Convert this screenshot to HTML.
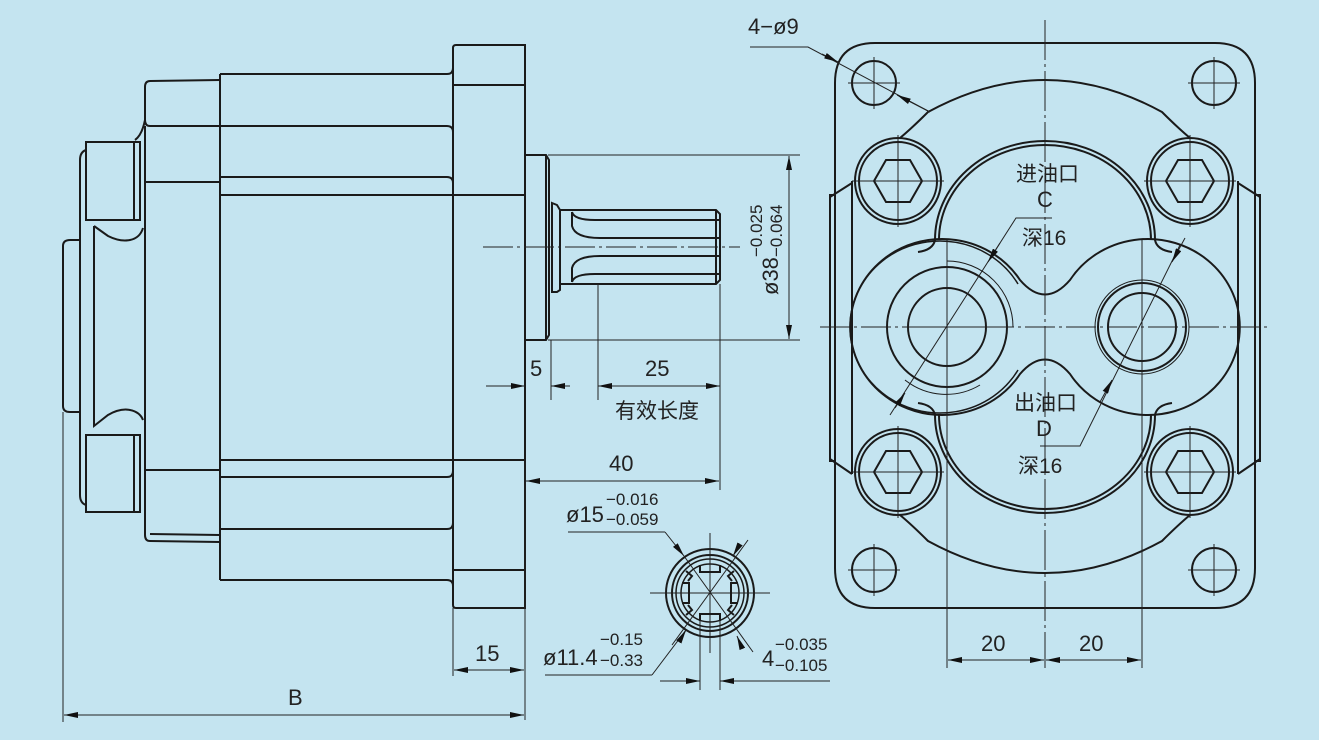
<!DOCTYPE html>
<html><head><meta charset="utf-8"><style>
html,body{margin:0;padding:0;background:#c4e4f0;}
svg{display:block}
text{font-family:"Liberation Sans","Noto Sans CJK SC",sans-serif;fill:#222;}
</style></head><body>
<svg width="1319" height="740" viewBox="0 0 1319 740" xmlns="http://www.w3.org/2000/svg">
<defs>
<marker id="a" markerWidth="14" markerHeight="6" refX="14" refY="3" orient="auto-start-reverse" markerUnits="userSpaceOnUse"><path d="M0,0 L14,3 L0,6z" fill="#111"/></marker>
</defs>
<rect width="1319" height="740" fill="#c4e4f0"/>
<g fill="none" stroke="#1a1a1a" stroke-width="2">
<path d="M453,48 Q453,45 456,45 L525,45 L525,608 L456,608 Q453,608 453,605 Z"/>
<line x1="453" y1="85" x2="525" y2="85"/><line x1="453" y1="570" x2="525" y2="570"/>
<rect x="220" y="195" width="305" height="265"/>
<line x1="220" y1="74" x2="220" y2="580"/>
<path d="M220,74 L447,74 Q453,74 453,68"/>
<path d="M220,126 L447,126 Q453,126 453,132"/>
<path d="M220,177 L447,177 Q453,177 453,183 L453,195"/>
<path d="M220,580 L447,580 Q453,580 453,586"/>
<path d="M220,529 L447,529 Q453,529 453,523"/>
<path d="M220,477 L447,477 Q453,477 453,471 L453,460"/>
<path d="M220,80 L150,81 Q145,81 145,87 L145,120 Q145,126 150,126 L220,126"/>
<path d="M145,126 L145,182 L220,182"/>
<path d="M145,120 Q142,135 135,140"/>
<path d="M145,182 L145,470 L220,470"/>
<path d="M145,470 L145,535 Q145,541 150,541 L220,542"/>
<path d="M220,535 L150,534"/>
<path d="M86,142 L140,142 L140,220 L86,220 Z"/>
<line x1="134" y1="142" x2="134" y2="220"/>
<path d="M86,435 L140,435 L140,512 L86,512 Z"/>
<line x1="134" y1="435" x2="134" y2="512"/>
<path d="M86,150 Q80,152 80,160 L80,495 Q80,503 86,505"/>
<path d="M94,226 L94,426 L108,415 Q120,408 130,410 Q140,412 143,420"/>
<path d="M94,226 L108,236 Q120,242 130,240 Q140,238 143,228"/>
<path d="M80,240 L70,240 Q63,240 63,246 L63,406 Q63,412 70,412 L80,412"/>
<path d="M525,155 L546,155 L549,160 L549,335 L546,340 L525,340"/>
<line x1="546" y1="155" x2="546" y2="340"/>
<path d="M552,203 L557,205 L560,210 L560,290 L557,292 L552,292 Z"/>
<path d="M560,210 L716,210 L720,214 L720,280 L716,284 L560,284"/>
<path d="M572,212 Q574,220 595,220 L720,220"/>
<path d="M572,212 L572,226 Q575,238 600,238 L720,238"/>
<path d="M572,282 L572,268 Q575,256 600,256 L720,256"/>
<path d="M572,282 Q574,274 595,274 L720,274"/>
<line x1="716" y1="210" x2="716" y2="284"/>
<path d="M875,43 L1215,43 Q1255,43 1255,83 L1255,568 Q1255,608 1215,608 L875,608 Q835,608 835,568 L835,83 Q835,43 875,43 Z"/>
<path d="M835,195 L830,195 L830,461 L835,461"/>
<path d="M830,197 L852,183 M830,459 L852,474"/>
<line x1="852" y1="181" x2="852" y2="474"/>
<path d="M1255,195 L1260,195 L1260,461 L1255,461"/>
<path d="M1260,197 L1238,183 M1260,459 L1238,474"/>
<line x1="1238" y1="181" x2="1238" y2="474"/>
<circle cx="874" cy="83" r="22"/><circle cx="1214" cy="83" r="22"/>
<circle cx="874" cy="570" r="22"/><circle cx="1214" cy="570" r="22"/>
<circle cx="898" cy="181" r="43"/><circle cx="898" cy="181" r="39"/>
<circle cx="1190" cy="181" r="43"/><circle cx="1190" cy="181" r="39"/>
<circle cx="898" cy="472" r="43"/><circle cx="898" cy="472" r="39"/>
<circle cx="1190" cy="472" r="43"/><circle cx="1190" cy="472" r="39"/>
<path d="M874,181 L886,160 L910,160 L922,181 L910,202 L886,202 Z"/>
<path d="M1166,181 L1178,160 L1202,160 L1214,181 L1202,202 L1178,202 Z"/>
<path d="M874,472 L886,451 L910,451 L922,472 L910,493 L886,493 Z"/>
<path d="M1166,472 L1178,451 L1202,451 L1214,472 L1202,493 L1178,493 Z"/>
<path d="M900,138 Q912,128 928,112 Q1045,48 1162,112 Q1178,128 1190,138"/>
<path d="M900,515 Q912,525 928,541 Q1045,605 1162,541 Q1178,525 1190,515"/>
<path d="M918,252 Q933,250 935,240 A110,99 0 0 1 1155,240 Q1157,250 1172,252"/>
<path d="M939,240 A106,95 0 0 1 1151,240"/>
<path d="M918,403 Q933,405 935,415 A110,98 0 0 0 1155,415 Q1157,405 1172,403"/>
<path d="M939,415 A106,94 0 0 0 1151,415"/>
<path d="M1020,280 A92,88 0 1 0 1020,374 Q1045,345 1070,374 A92,88 0 1 0 1070,280 Q1045,309 1020,280 Z"/>
<path d="M1018,284 A90,86 0 1 0 1018,370" stroke-width="1.5"/>
<circle cx="947" cy="327" r="39"/>
<circle cx="947" cy="327" r="60"/>
<path d="M947,261 A66,66 0 0 1 1013,327" stroke-width="1"/>
<path d="M905,380 A66,66 0 0 0 980,385" stroke-width="1"/>
<circle cx="1142" cy="327" r="34"/>
<circle cx="1142" cy="327" r="44"/>
<circle cx="1142" cy="327" r="47" stroke-width="1"/>
<circle cx="710" cy="593" r="44"/>
<circle cx="710" cy="593" r="38"/>
<circle cx="710" cy="593" r="34" stroke-width="1.5"/>
<circle cx="710" cy="593" r="29" stroke-width="1.5"/>
</g>
<g fill="none" stroke="#222" stroke-width="1">
<line x1="483" y1="247" x2="740" y2="247" stroke-dasharray="30,4,3,4"/>
<line x1="548" y1="155" x2="800" y2="155"/><line x1="548" y1="340" x2="800" y2="340"/>
<line x1="789" y1="156" x2="789" y2="339" marker-start="url(#a)" marker-end="url(#a)"/>
<line x1="551" y1="340" x2="551" y2="400"/><line x1="598" y1="284" x2="598" y2="400"/>
<line x1="720" y1="284" x2="720" y2="490"/><line x1="525" y1="460" x2="525" y2="720"/>
<line x1="486" y1="386" x2="525" y2="386" marker-end="url(#a)"/>
<line x1="570" y1="386" x2="551" y2="386" marker-end="url(#a)"/>
<line x1="598" y1="386" x2="720" y2="386" marker-start="url(#a)" marker-end="url(#a)"/>
<line x1="526" y1="481" x2="719" y2="481" marker-start="url(#a)" marker-end="url(#a)"/>
<line x1="453" y1="608" x2="453" y2="676"/>
<line x1="454" y1="670" x2="524" y2="670" marker-start="url(#a)" marker-end="url(#a)"/>
<line x1="63" y1="412" x2="63" y2="722"/>
<line x1="64" y1="715" x2="524" y2="715" marker-start="url(#a)" marker-end="url(#a)"/>
<line x1="820" y1="327" x2="1268" y2="327" stroke-dasharray="30,4,3,4"/>
<line x1="1045" y1="20" x2="1045" y2="668" stroke-dasharray="40,4,3,4"/>
<line x1="947" y1="240" x2="947" y2="668"/><line x1="1142" y1="240" x2="1142" y2="668"/>
<line x1="948" y1="660" x2="1044" y2="660" marker-start="url(#a)" marker-end="url(#a)"/>
<line x1="1046" y1="660" x2="1141" y2="660" marker-start="url(#a)" marker-end="url(#a)"/>
<line x1="905" y1="327" x2="990" y2="327"/>
<line x1="874" y1="57" x2="874" y2="109"/><line x1="848" y1="83" x2="900" y2="83"/>
<line x1="1214" y1="57" x2="1214" y2="109"/><line x1="1188" y1="83" x2="1240" y2="83"/>
<line x1="874" y1="544" x2="874" y2="596"/><line x1="848" y1="570" x2="900" y2="570"/>
<line x1="1214" y1="544" x2="1214" y2="596"/><line x1="1188" y1="570" x2="1240" y2="570"/>
<line x1="898" y1="135" x2="898" y2="227"/><line x1="852" y1="181" x2="944" y2="181"/>
<line x1="1190" y1="135" x2="1190" y2="227"/><line x1="1144" y1="181" x2="1236" y2="181"/>
<line x1="898" y1="426" x2="898" y2="518"/><line x1="852" y1="472" x2="944" y2="472"/>
<line x1="1190" y1="426" x2="1190" y2="518"/><line x1="1144" y1="472" x2="1236" y2="472"/>
<path d="M750,47 L808,47 L930,112"/>
<line x1="822" y1="54" x2="838" y2="62" marker-end="url(#a)"/>
<line x1="930" y1="112" x2="897" y2="95" marker-end="url(#a)"/>
<path d="M1052,218 L1016,218 L890,415"/>
<line x1="1000" y1="243" x2="988" y2="262" marker-end="url(#a)"/>
<line x1="895" y1="408" x2="905" y2="393" marker-end="url(#a)"/>
<path d="M1040,446 L1080,446 L1180,245"/>
<line x1="1100" y1="402" x2="1112" y2="380" marker-end="url(#a)"/>
<line x1="1185" y1="238" x2="1172" y2="262" marker-end="url(#a)"/>
<line x1="710" y1="533" x2="710" y2="653"/><line x1="650" y1="593" x2="770" y2="593"/>
<line x1="748" y1="540" x2="672" y2="645"/>
<line x1="568" y1="532" x2="665" y2="532"/>
<line x1="665" y1="532" x2="684" y2="556" marker-end="url(#a)"/>
<line x1="684" y1="556" x2="753" y2="652"/>
<line x1="545" y1="675" x2="652" y2="675"/>
<line x1="652" y1="675" x2="686" y2="630"/>
<line x1="680" y1="640" x2="686" y2="630" marker-end="url(#a)"/>
<line x1="740" y1="544" x2="733" y2="556" marker-end="url(#a)"/>
<line x1="742" y1="648" x2="737" y2="636" marker-end="url(#a)"/>
<line x1="700" y1="620" x2="700" y2="690"/><line x1="720" y1="620" x2="720" y2="690"/>
<line x1="660" y1="681" x2="700" y2="681" marker-end="url(#a)"/>
<line x1="830" y1="681" x2="720" y2="681" marker-end="url(#a)"/>
</g>
<g fill="none" stroke="#1a1a1a" stroke-width="2">
<path d="M700,565 L700,572 L720,572 L720,565"/>
<path d="M700,621 L700,614 L720,614 L720,621"/>
<path d="M682,583 L689,583 L689,603 L682,603"/>
<path d="M738,583 L731,583 L731,603 L738,603"/>
<path d="M686,571 L692,576 L688,581"/>
<path d="M734,571 L728,576 L732,581"/>
<path d="M686,615 L692,610 L688,605"/>
<path d="M734,615 L728,610 L732,605"/>
</g>
<g font-size="22">
<text x="748" y="34">4−ø9</text>
<text x="530" y="376">5</text>
<text x="645" y="376">25</text>
<text x="615" y="418" font-size="21">有效长度</text>
<text x="609" y="471">40</text>
<text x="475" y="661">15</text>
<text x="288" y="705">B</text>
<text x="981" y="651">20</text>
<text x="1079" y="651">20</text>
<text x="1016" y="181" font-size="21">进油口</text>
<text x="1037" y="207">C</text>
<text x="1022" y="245" font-size="21">深16</text>
<text x="1014" y="410" font-size="21">出油口</text>
<text x="1036" y="436">D</text>
<text x="1018" y="473" font-size="21">深16</text>
<text x="566" y="522">ø15</text>
<text x="606" y="505" font-size="17">−0.016</text>
<text x="606" y="525" font-size="17">−0.059</text>
<text x="543" y="665">ø11.4</text>
<text x="600" y="645" font-size="17">−0.15</text>
<text x="600" y="666" font-size="17">−0.33</text>
<text x="762" y="666">4</text>
<text x="775" y="650" font-size="17">−0.035</text>
<text x="775" y="671" font-size="17">−0.105</text>
<g transform="translate(778,295) rotate(-90)">
<text x="0" y="0">ø38</text>
<text x="38" y="-16" font-size="17">−0.025</text>
<text x="38" y="4" font-size="17">−0.064</text>
</g>
</g>
</svg>
</body></html>
